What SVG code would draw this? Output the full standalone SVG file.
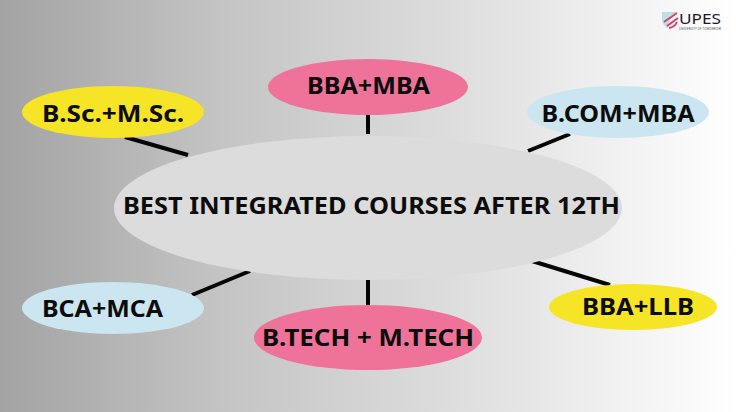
<svg xmlns="http://www.w3.org/2000/svg" width="736" height="412" viewBox="0 0 736 412">
<defs>
<linearGradient id="bg" x1="0" y1="0" x2="1" y2="0">
<stop offset="0" stop-color="#a3a3a3"/><stop offset="0.3" stop-color="#c4c4c4"/><stop offset="0.6" stop-color="#dcdcdc"/><stop offset="0.85" stop-color="#f2f2f2"/><stop offset="1" stop-color="#ffffff"/>
</linearGradient>
</defs>
<style>
text{font-family:"Noto Sans","DejaVu Sans",sans-serif;font-weight:700;fill:#0c0c0c;text-anchor:middle}
.n{font-size:24px}
.c{stroke:#050505;stroke-width:4;fill:none}
.pink{fill:#ef7399}.yellow{fill:#f6e427}.blue{fill:#cbe6f0}
</style>
<rect width="736" height="412" fill="url(#bg)"/>
<g id="connectors">
<line class="c" x1="125" y1="137" x2="188" y2="155"/>
<line class="c" x1="368" y1="114" x2="368" y2="134"/>
<line class="c" x1="570" y1="134" x2="528" y2="151"/>
<line class="c" x1="192" y1="295" x2="250" y2="271"/>
<line class="c" x1="368" y1="279" x2="368" y2="306"/>
<line class="c" x1="532" y1="261" x2="610" y2="285"/>
</g>
<g id="center"><ellipse cx="368" cy="208" rx="254" ry="72" fill="#dcdcdc"/><text x="371.500" y="214" font-size="24" textLength="497" lengthAdjust="spacingAndGlyphs">BEST INTEGRATED COURSES AFTER 12TH</text></g>
<g id="bsc"><ellipse class="yellow" cx="113" cy="112" rx="91" ry="26"/><text class="n" x="113" y="122" textLength="142" lengthAdjust="spacingAndGlyphs">B.Sc.+M.Sc.</text></g>
<g id="bba-mba"><ellipse class="pink" cx="368" cy="87" rx="100" ry="28"/><text class="n" x="368.500" y="94" textLength="123" lengthAdjust="spacingAndGlyphs">BBA+MBA</text></g>
<g id="bcom"><ellipse class="blue" cx="618" cy="112" rx="91" ry="26"/><text class="n" x="618" y="122" textLength="153" lengthAdjust="spacingAndGlyphs">B.COM+MBA</text></g>
<g id="bca"><ellipse class="blue" cx="113" cy="308" rx="91" ry="26"/><text class="n" x="102.500" y="317" textLength="121" lengthAdjust="spacingAndGlyphs">BCA+MCA</text></g>
<g id="btech"><ellipse class="pink" cx="368" cy="337.500" rx="114" ry="32.500"/><text class="n" x="368" y="346" textLength="212" lengthAdjust="spacingAndGlyphs">B.TECH + M.TECH</text></g>
<g id="llb"><ellipse class="yellow" cx="633" cy="307" rx="84" ry="23"/><text class="n" x="638" y="315" textLength="112" lengthAdjust="spacingAndGlyphs">BBA+LLB</text></g>
<g id="logo">
<path d="M662 12H677L670 20L668 28Q662 25 662 20Z" fill="#bcdfe8"/>
<path d="M664 22L677 13M667 26L678 18M669 28Q675 27 677 22" stroke="#d8406a" stroke-width="2" fill="none"/>
<text x="700" y="23.500" font-size="15" textLength="42" lengthAdjust="spacingAndGlyphs" style="font-weight:400;fill:#1a1a2a">UPES</text>
<text x="700" y="30" font-size="3" textLength="42" lengthAdjust="spacing" style="font-weight:400;fill:#555">UNIVERSITY OF TOMORROW</text>
</g>
</svg>
